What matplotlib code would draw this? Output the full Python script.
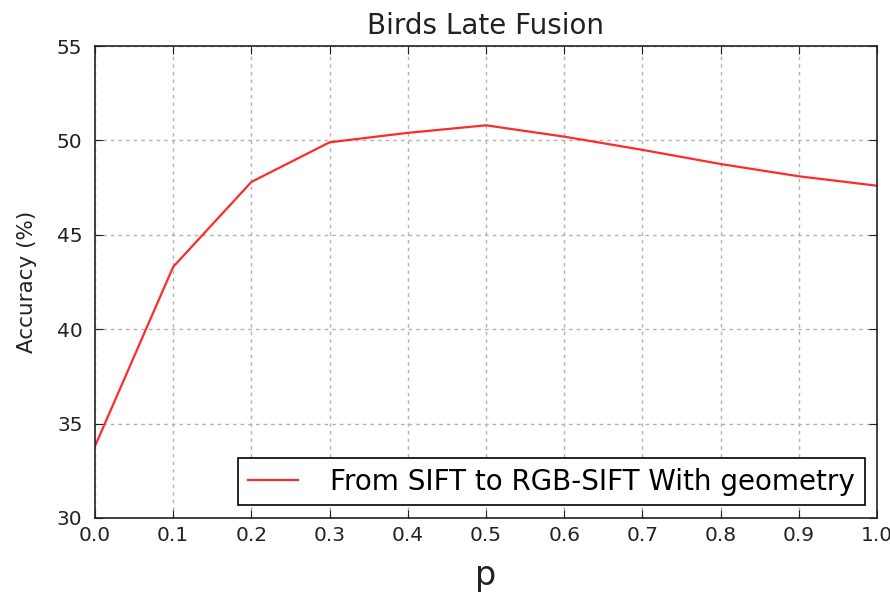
import matplotlib
matplotlib.use("Agg")
import matplotlib.pyplot as plt

p_values = [0.0, 0.1, 0.2, 0.3, 0.4, 0.5, 0.6, 0.7, 0.8, 0.9, 1.0]
accuracy = [33.8, 43.3, 47.8, 49.9, 50.4, 50.8, 50.2, 49.5, 48.75, 48.1, 47.6]
x_ticks = [0.0, 0.1, 0.2, 0.3, 0.4, 0.5, 0.6, 0.7, 0.8, 0.9, 1.0]
y_ticks = [30, 35, 40, 45, 50, 55]
series_label = "From SIFT to RGB-SIFT With geometry"

fig = plt.figure(figsize=(8.9, 5.93), dpi=100)
ax = fig.add_axes([0.1067, 0.1265, 0.8787, 0.7959])
ax.plot(p_values, accuracy, color="#ff2a2a", lw=1.6, label=series_label)
ax.set_xlim(0, 1)
ax.set_ylim(30, 55)
ax.set_xticks(x_ticks)
ax.set_xticklabels([f"{v:.1f}" for v in x_ticks])
ax.set_yticks(y_ticks)
ax.grid(True, color="#b0b0b0", linestyle=(0, (2.5, 3)), lw=1)
ax.tick_params(direction="in", top=True, right=True, labelsize=14.5, length=6,
               colors="#222222")
ax.tick_params(axis="x", pad=6)
ax.tick_params(axis="y", pad=9)
for s in ax.spines.values():
    s.set_linewidth(1.2)
    s.set_color("#222222")
ax.set_title("Birds Late Fusion", fontsize=20, color="#222222", pad=9)
ax.set_xlabel("p", fontsize=24, color="#222222", labelpad=10)
ax.set_ylabel("Accuracy (%)", fontsize=15.5, color="#222222", labelpad=14)
leg = ax.legend(loc="lower right", fontsize=20, fancybox=False, framealpha=1,
                edgecolor="black", borderaxespad=0.45, handlelength=1.8,
                handletextpad=1.15, borderpad=0.35)
leg.get_frame().set_linewidth(1.2)
fig.savefig("out.png", dpi=100)
